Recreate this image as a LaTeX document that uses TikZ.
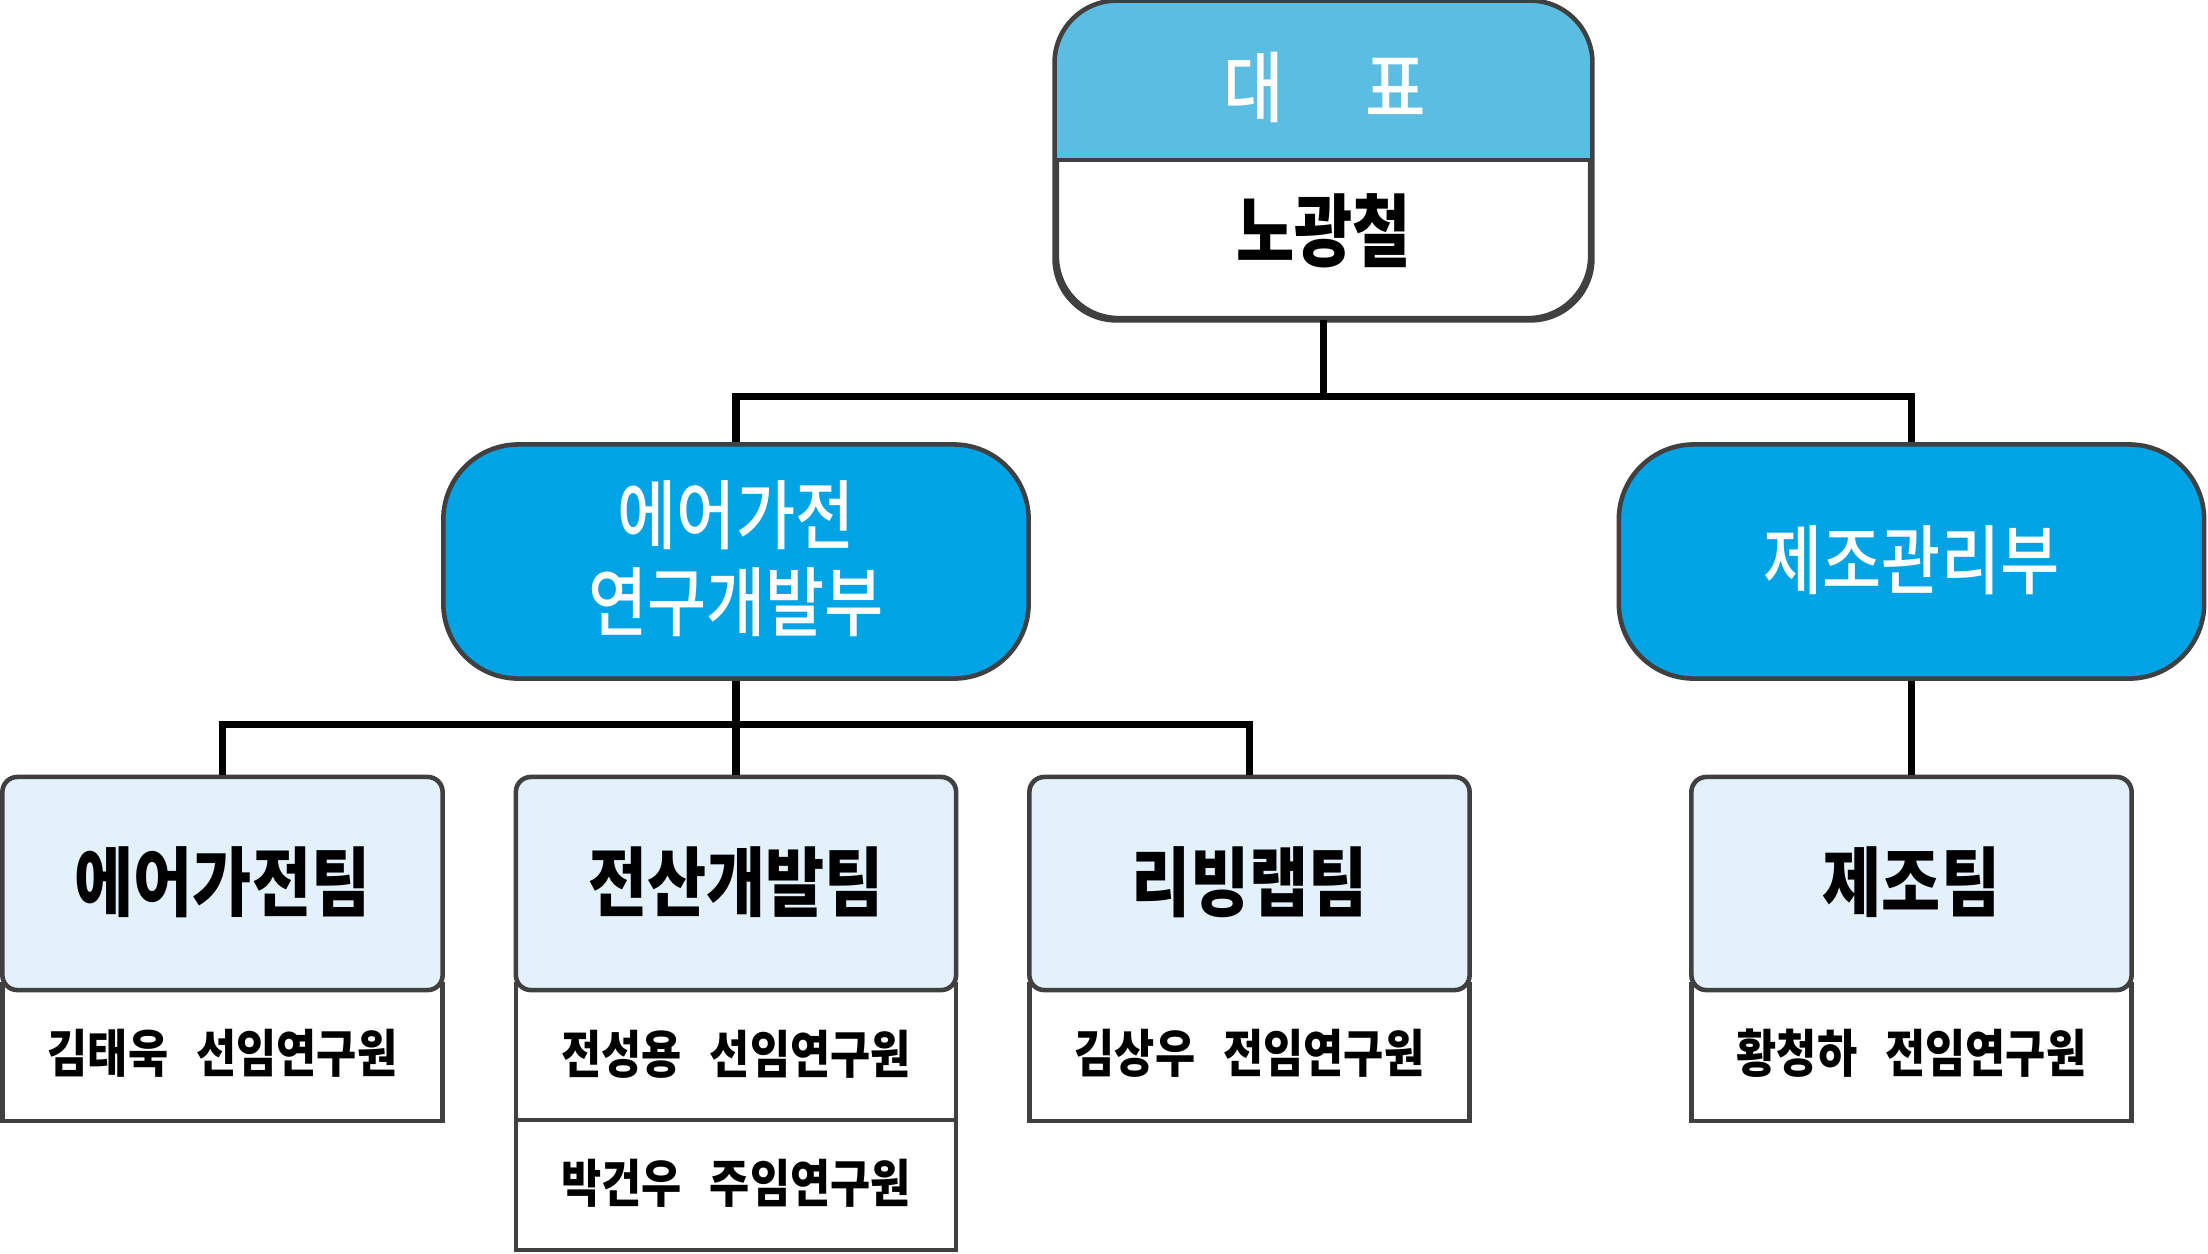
\documentclass[tikz,border=0pt]{standalone}
\usepackage{fontspec}
\newfontfamily\kr[FakeStretch=0.85]{Noto Sans CJK KR}
\newfontfamily\krn[FakeStretch=0.80]{Noto Sans CJK KR}
\newfontfamily\krm[FakeStretch=0.85]{Noto Sans CJK KR Medium}
\definecolor{hdr}{HTML}{5BBDE2}
\definecolor{deptc}{HTML}{00A3E3}
\definecolor{teamc}{HTML}{E3F1FA}
\definecolor{bordc}{HTML}{404040}
\tikzset{
  border/.style={draw=bordc, line width=1.3pt},
  conn/.style={draw=black, line width=2pt},
  ceobox/.style={border, fill=white, rounded corners=0.62cm, minimum width=5.33cm, minimum height=3.15cm, inner sep=0pt},
  deptbox/.style={border, fill=deptc, rounded corners=0.75cm, minimum width=5.85cm, minimum height=2.34cm, inner sep=0pt},
  teambox/.style={border, fill=teamc, rounded corners=0.15cm, minimum width=4.40cm, minimum height=2.13cm, inner sep=0pt},
  membox/.style={border, fill=white, minimum width=4.40cm, minimum height=1.33cm, inner sep=0pt},
  depttext/.style={text=white, font=\krm\fontsize{21.5}{24.8}\selectfont, align=center, inner sep=0pt},
  teamtext/.style={text=black, font=\kr\bfseries\fontsize{21.5}{24}\selectfont, inner sep=0pt},
  memtext/.style={text=black, font=\kr\bfseries\fontsize{14.6}{16}\selectfont, inner sep=0pt},
  nametext/.style={text=black, font=\krn\bfseries\fontsize{22.5}{24}\selectfont, inner sep=0pt},
  hdrtext/.style={text=white, font=\krm\fontsize{22}{24}\selectfont, inner sep=0pt},
}
\begin{document}
\begin{tikzpicture}[x=0.01cm, y=-0.01cm]
\useasboundingbox (0,0) rectangle (2208,1253);
\fill[white] (0,0) rectangle (2208,1253);

% CEO box
\node[ceobox] (ceo) at (1323.5,160.5) {};
\begin{scope}
  \clip[rounded corners=0.62cm] (ceo.north west) rectangle (ceo.south east);
  \fill[hdr] (ceo.north west) rectangle (1590,160);
\end{scope}
\draw[draw=bordc, line width=1.3pt] (ceo.west |- 0,160) -- (ceo.east |- 0,160);
\draw[border, rounded corners=0.62cm] (ceo.north west) rectangle (ceo.south east);
\node[hdrtext] (ceot) at (1325,87) {대\hspace{1.05em}표};
\node[nametext] (ceon) at (1323.5,231) {노광철};

% departments
\node[deptbox] (d1) at (736,561.5) {};
\node[depttext] (d1t) at (736,559) {에어가전\\연구개발부};
\node[deptbox] (d2) at (1911.5,561.5) {};
\node[depttext] (d2t) at (1911.5,560) {제조관리부};

% member boxes (drawn first, team boxes overlap their tops)
\node[membox, minimum height=1.37cm] (m1) at (222.5,1052.5) {};
\node[membox, minimum height=1.37cm] (m2) at (736,1052.5) {};
\node[membox, minimum height=1.30cm] (m2b) at (736,1185) {};
\node[membox, minimum height=1.37cm] (m3) at (1249.5,1052.5) {};
\node[membox, minimum height=1.37cm] (m4) at (1911.5,1052.5) {};

% team boxes
\node[teambox] (t1) at (222.5,883.5) {};
\node[teambox] (t2) at (736,883.5) {};
\node[teambox] (t3) at (1249.5,883.5) {};
\node[teambox] (t4) at (1911.5,883.5) {};

\node[teamtext] (t1t) at (222.5,882) {에어가전팀};
\node[teamtext] (t2t) at (736,882) {전산개발팀};
\node[teamtext] (t3t) at (1249.5,882) {리빙랩팀};
\node[teamtext] (t4t) at (1911.5,882) {제조팀};

\node[memtext] (m1t) at (222.5,1053) {김태욱\hspace{0.55em}선임연구원};
\node[memtext] (m2t) at (736,1054) {전성용\hspace{0.55em}선임연구원};
\node[memtext] (m2bt) at (736,1183) {박건우\hspace{0.55em}주임연구원};
\node[memtext] (m3t) at (1249.5,1053) {김상우\hspace{0.55em}전임연구원};
\node[memtext] (m4t) at (1911.5,1053) {황청하\hspace{0.55em}전임연구원};

% connectors
\coordinate (bus1) at (1323.5,396);
\coordinate (bus2) at (736,724);
\draw[conn] (ceo.south) -- (bus1);
\draw[conn] (d1.north) |- (bus1) -| (d2.north);
\draw[conn] (d1.south) -- (t2.north);
\draw[conn] (t1.north) |- (bus2) -| (t3.north);
\draw[conn] (d2.south) -- (t4.north);
\end{tikzpicture}
\end{document}
